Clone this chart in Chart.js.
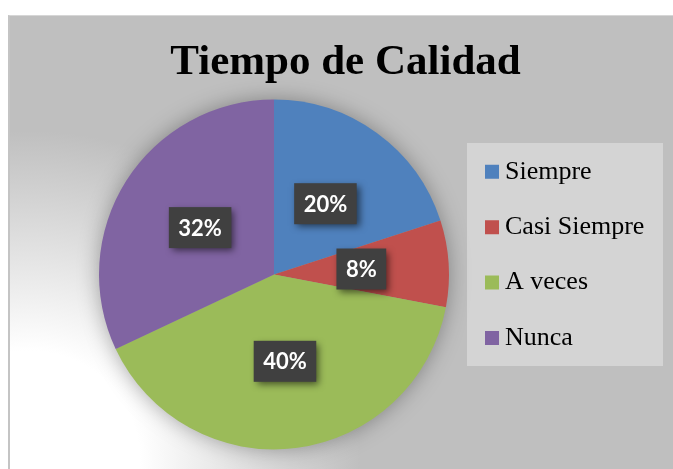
<!DOCTYPE html>
<html>
<head>
<meta charset="utf-8">
<title>Tiempo de Calidad</title>
<script src="https://cdn.jsdelivr.net/npm/chart.js@4.4.1/dist/chart.umd.min.js"></script>
<style>
  html, body { margin: 0; padding: 0; background: #fff; }
  body { width: 673px; height: 469px; overflow: hidden; position: relative; }
  #frame {
    position: absolute; left: 8px; top: 15px; width: 665px; height: 454px;
    box-sizing: border-box;
    border-left: 2px solid #c4c4c4; border-top: 1px solid #d6d6d6;
    background: radial-gradient(circle at 20px 445px, #ffffff 0px, #ffffff 110px, #bfbfbf 330px);
  }
  #chart { position: absolute; left: 8px; top: 15px; }
</style>
</head>
<body>
<div id="frame"></div>
<canvas id="chart" width="665" height="454"></canvas>
<script>
// Chart data
const chartTitle = "Tiempo de Calidad";
const categories = ["Siempre", "Casi Siempre", "A veces", "Nunca"];
const percentages = [20, 8, 40, 32];
const sliceColors = ["#4F81BD", "#C0504D", "#9BBB59", "#8064A2"];

const serif = "'Liberation Serif', 'Times New Roman', serif";

// Centre the title over the whole chart object, not over pie + legend only
const titleCentre = {
  id: "titleCentre",
  afterLayout(chart) {
    const t = chart.titleBlock;
    if (!t) return;
    t.left = 337.5 - 300;
    t.right = 337.5 + 300;
  },
};

// Soft shadow under the whole pie (drawn once so slices don't shade each other)
const pieShadow = {
  id: "pieShadow",
  beforeDatasetsDraw(chart) {
    const arc = chart.getDatasetMeta(0).data[0];
    if (!arc) return;
    const { x, y, outerRadius } = arc.getProps(["x", "y", "outerRadius"], true);
    const ctx = chart.ctx;
    ctx.save();
    ctx.shadowColor = "rgba(0,0,0,0.35)";
    ctx.shadowBlur = 22;
    ctx.fillStyle = "#9a9a9a";
    ctx.beginPath();
    ctx.arc(x, y, outerRadius - 1, 0, Math.PI * 2);
    ctx.fill();
    ctx.restore();
  },
};

// Light panel behind the legend
const legendPanel = {
  id: "legendPanel",
  beforeDraw(chart) {
    const boxes = chart.legend && chart.legend.legendHitBoxes;
    if (!boxes || !boxes.length) return;
    const first = boxes[0];
    const ctx = chart.ctx;
    ctx.save();
    ctx.fillStyle = "#d4d4d4";
    ctx.fillRect(first.left - 25, first.top - 15.8, 196, 223);
    ctx.restore();
  },
};

// Dark percentage boxes in the middle of each slice
const valueBoxes = {
  id: "valueBoxes",
  afterDatasetsDraw(chart) {
    const ctx = chart.ctx;
    const data = chart.data.datasets[0].data;
    const total = data.reduce((a, b) => a + b, 0);
    ctx.save();
    ctx.font = "bold 22px Lato, 'Open Sans', sans-serif";
    chart.getDatasetMeta(0).data.forEach((arc, i) => {
      const { x, y, startAngle, endAngle, outerRadius } =
        arc.getProps(["x", "y", "startAngle", "endAngle", "outerRadius"], true);
      const mid = (startAngle + endAngle) / 2;
      const px = x + Math.cos(mid) * outerRadius * 0.5;
      const py = y + Math.sin(mid) * outerRadius * 0.5;
      const text = Math.round((data[i] / total) * 100) + "%";
      const w = ctx.measureText(text).width + 19;
      const h = 41;

      ctx.shadowColor = "rgba(0,0,0,0.55)";
      ctx.shadowBlur = 7;
      ctx.shadowOffsetX = 3;
      ctx.shadowOffsetY = 3;
      ctx.fillStyle = "#404040";
      ctx.fillRect(px - w / 2, py - h / 2, w, h);

      ctx.shadowColor = "transparent";
      ctx.fillStyle = "#ffffff";
      ctx.textAlign = "center";
      ctx.textBaseline = "middle";
      ctx.fillText(text, px, py + 1);
    });
    ctx.restore();
  },
};

new Chart(document.getElementById("chart"), {
  type: "pie",
  data: {
    labels: categories,
    datasets: [{
      data: percentages,
      backgroundColor: sliceColors,
      borderWidth: 0,
    }],
  },
  options: {
    responsive: false,
    animation: false,
    events: [],
    layout: { padding: { left: 77.4, right: 20.4, top: 45.3, bottom: 19.5 } },
    plugins: {
      tooltip: { enabled: false },
      title: {
        display: true,
        text: chartTitle,
        color: "#000",
        font: { family: serif, size: 43, weight: "bold", lineHeight: 0.1 },
        padding: { top: 0.35, bottom: 34.55 },
      },
      legend: {
        position: "right",
        maxWidth: 190,
        labels: {
          font: { family: serif, size: 26 },
          color: "#000",
          boxWidth: 0.01,
          boxHeight: 0.01,
          padding: 29.4,
          generateLabels: (chart) => categories.map((name, i) => ({
            text: name,
            fillStyle: sliceColors[i],
            strokeStyle: sliceColors[i],
            lineWidth: 14,
            fontColor: "#000",
            hidden: false,
            index: i,
          })),
        },
      },
    },
  },
  plugins: [titleCentre, legendPanel, pieShadow, valueBoxes],
});
</script>
</body>
</html>
